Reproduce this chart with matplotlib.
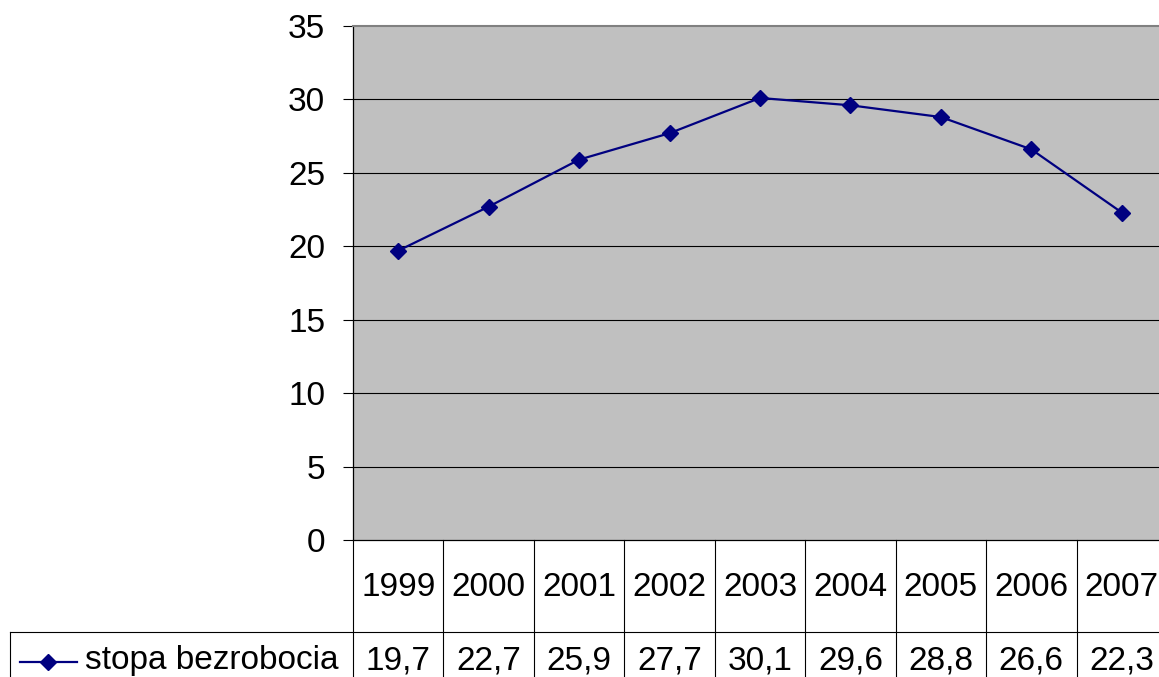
import matplotlib
matplotlib.use("Agg")
import matplotlib.pyplot as plt
from matplotlib.lines import Line2D
from matplotlib.transforms import blended_transform_factory

years = ["1999", "2000", "2001", "2002", "2003", "2004", "2005", "2006", "2007"]
rate = [19.7, 22.7, 25.9, 27.7, 30.1, 29.6, 28.8, 26.6, 22.3]
series_name = "stopa bezrobocia"
y_ticks = [0, 5, 10, 15, 20, 25, 30, 35]

W, H = 1159, 677
FS = 24
plt.rcParams['font.family'] = ['Liberation Sans', 'DejaVu Sans']
fig = plt.figure(figsize=(W / 100, H / 100), dpi=100)

# plot area (right edge runs past the picture, as in the original)
ax = fig.add_axes([353 / W, (H - 540) / H, (1167 - 353) / W, (540 - 26) / H])
ax.set_facecolor('#C0C0C0')
x = list(range(len(years)))
ax.plot(x, rate, color='#000080', lw=1.6, marker='D', markersize=8.5, zorder=3)
ax.set_xlim(-0.5, len(years) - 0.5)
ax.set_ylim(0, 35)
ax.set_yticks(y_ticks)
ax.set_yticklabels([str(t) for t in y_ticks], fontsize=FS)
ax.tick_params(axis='y', direction='out', length=7, width=0.8, pad=13)
ax.set_xticks([])
for t in y_ticks[1:-1]:
    ax.axhline(t, color='black', lw=0.8, zorder=1)
ax.spines['right'].set_visible(False)
ax.spines['top'].set_color('#808080')
ax.spines['top'].set_linewidth(1.5)
ax.spines['left'].set_linewidth(0.9)
ax.spines['bottom'].set_linewidth(0.9)

# data table under the chart
tr = blended_transform_factory(ax.transData, fig.transFigure)
def fy(px):
    return (H - px) / H

for b in [i - 0.5 for i in range(len(years) + 1)]:
    fig.add_artist(Line2D([b, b], [fy(540), fy(700)], transform=tr, color='black', lw=0.8))
fig.add_artist(Line2D([10 / W, 1], [fy(632), fy(632)], transform=fig.transFigure,
                      color='black', lw=0.8))
fig.add_artist(Line2D([10 / W, 10 / W], [fy(632), fy(700)], transform=fig.transFigure,
                      color='black', lw=0.8))

for i, (yr, v) in enumerate(zip(years, rate)):
    fig.text(i, fy(587), yr, transform=tr, ha='center', va='center', fontsize=FS)
    fig.text(i, fy(661), f"{v:.1f}".replace('.', ','), transform=tr,
             ha='center', va='center', fontsize=FS)

# legend key inside the table
fig.add_artist(Line2D([20 / W, 77 / W], [fy(662), fy(662)], transform=fig.transFigure,
                      color='#000080', lw=1.6))
fig.add_artist(Line2D([48 / W], [fy(662)], transform=fig.transFigure, color='#000080',
                      marker='D', markersize=8.5, lw=0))
fig.text(85 / W, fy(661), series_name, ha='left', va='center', fontsize=FS)

fig.savefig('out.png', dpi=100)
